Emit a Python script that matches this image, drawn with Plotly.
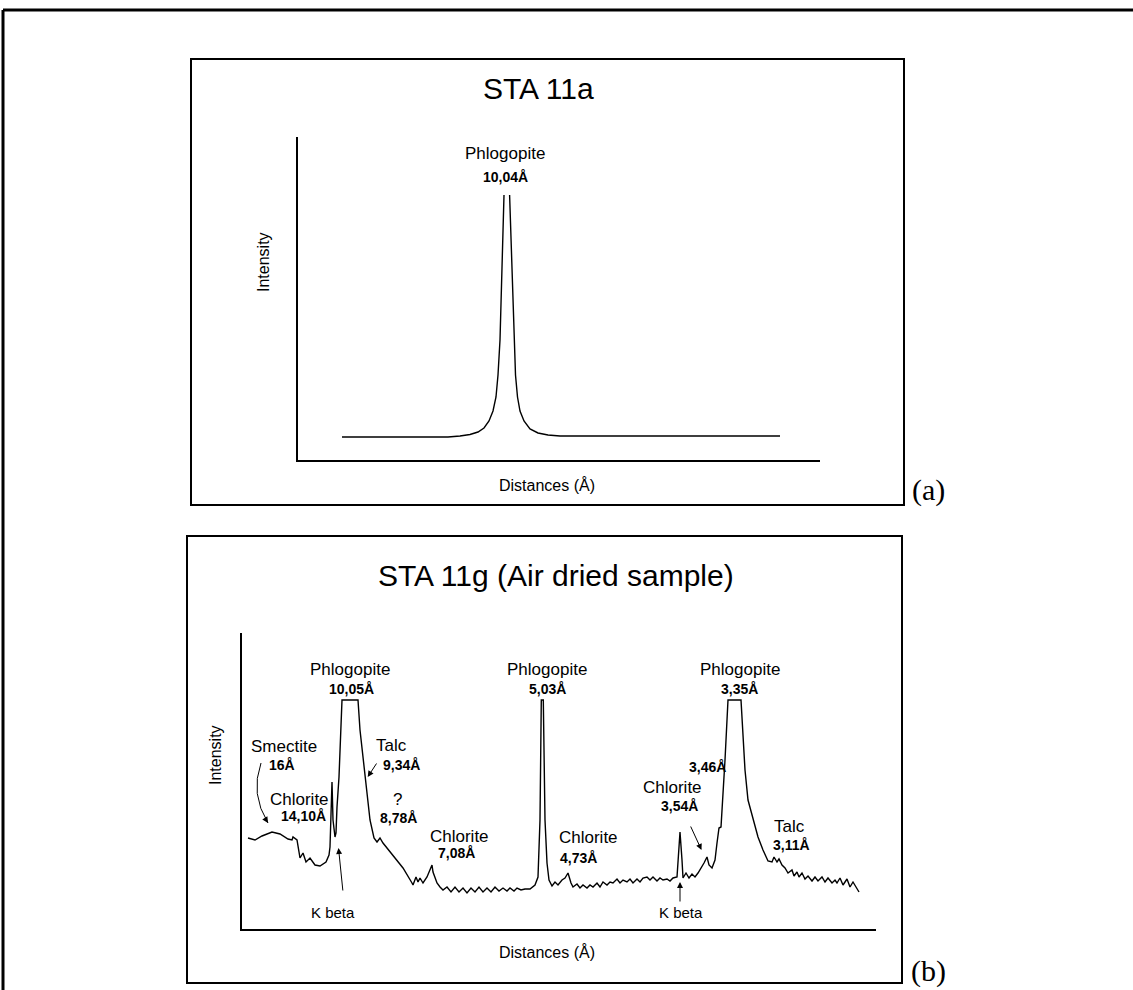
import plotly.graph_objects as go

W, H = 1133, 990

# ---- panel (a): STA 11a, single phlogopite reflection (arbitrary units) ----
a_pos = [44, 150, 162, 172, 180, 186, 191, 195, 198, 200, 202, 203.5, 205, 206, None,
         211.6, 212.8, 214.2, 215.8, 217.5, 219.5, 222, 226, 232, 240, 250, 262, 482]
a_int = [23, 23, 24, 25.5, 28, 32, 39, 49, 63, 85, 120, 170, 225, 265, None,
         265, 225, 170, 120, 85, 63, 49, 39, 31, 27, 25, 24, 24]

# ---- panel (b): STA 11g air dried (arbitrary units) ----
b_pos = [6, 13, 20, 30, 38, 46, 50, 51, 55, 58, 61, 64, 68, 73, 78, 84, 87, 88, 90, 91,
         93, 94, 95, 97, 100, 116, 118, 121, 124, 125, 128, 132, 135, 138, 141, 151, 161,
         170, 171, 174, 176, 178, 181, 185, 187, 190, 191, 195, 198, 201, 205, 209, 213,
         217, 221, 225, 229, 233, 237, 241, 245, 249, 253, 257, 261, 265, 268, 272, 275,
         279, 283, 288, 293, 296, 298, 299, 299.3, 301.3, 302, 303, 305, 307, 310, 313,
         316, 320, 323, 326, 329, 331, 335, 338, 341, 345, 348, 351, 355, 358, 361, 365,
         368, 371, 375, 378, 381, 385, 388, 391, 395, 398, 401, 405, 408, 411, 415, 418,
         421, 425, 428, 431, 435, 436, 438, 440, 441, 444, 447, 450, 453, 456, 460, 462,
         465, 467, 470, 473, 475, 477, 479, 481, 483, 485, 486, 499, 501, 503, 506, 511,
         516, 521, 526, 530, 532, 535, 537, 540, 543, 546, 550, 552, 555, 557, 560, 563,
         566, 570, 573, 576, 580, 583, 586, 590, 593, 595, 598, 601, 605, 608, 611, 614, 617]
b_int = [91, 89, 93, 97, 95, 90, 89, 92, 89, 71, 76, 67, 71, 64, 63, 67, 74, 82, 147, 109,
         92, 96, 122, 152, 229, 229, 199, 169, 141, 136, 109, 91, 87, 91, 86, 74, 61,
         46, 44, 52, 47, 51, 46, 52, 57, 64, 57, 46, 42, 39, 42, 37, 42,
         37, 41, 36, 41, 37, 42, 37, 41, 37, 42, 38, 41, 38, 41, 38, 41,
         39, 40, 40, 44, 52, 109, 176, 229, 229, 176, 109, 66, 49, 43, 47,
         44, 49, 51, 56, 46, 42, 45, 41, 44, 41, 44, 42, 46, 42, 47, 44,
         47, 46, 50, 46, 49, 47, 50, 46, 50, 47, 51, 52, 49, 52, 48, 51,
         49, 50, 48, 51, 52, 69, 97, 69, 51, 56, 51, 55, 52, 56, 62, 66,
         72, 64, 61, 69, 86, 101, 102, 132, 169, 209, 229, 229, 192, 159, 129, 109,
         92, 79, 68, 67, 72, 67, 70, 64, 61, 56, 59, 53, 57, 52, 56, 50,
         53, 48, 52, 48, 52, 47, 51, 46, 49, 46, 51, 44, 50, 42, 47, 42, 37]

# peak labels for panel (b): text, position, intensity
b_names = ["Phlogopite", "Phlogopite", "Phlogopite", "Smectite", "Chlorite", "Talc", "?",
           "Chlorite", "Chlorite", "Chlorite", "Talc", "K beta", "K beta"]
b_names_x = [108, 305, 498, 42, 57, 149, 155, 217, 346, 430, 547, 91, 439]
b_names_y = [260, 260, 260, 183, 130, 184, 130, 93, 92, 142, 103, 17, 17]
b_d = ["10,05Å", "5,03Å", "3,35Å", "16Å", "14,10Å", "9,34Å", "8,78Å", "7,08Å", "4,73Å",
       "3,54Å", "3,46Å", "3,11Å"]
b_d_x = [109, 305, 497, 40, 61, 159, 156, 214, 336, 437, 465, 549]
b_d_y = [240, 240, 240, 164, 113, 164, 111, 76, 71, 123, 162, 84]

# arrows (tail -> head) in panel (b)
arrow_tail = [(135.5, 167), (101, 37), (448, 104), (438, 26), (22.4, 111.8)]
arrow_head = [(125.7, 152), (96.5, 81), (459.5, 79), (438, 47), (26, 106)]

FONT = "Liberation Sans, Arial, sans-serif"
SERIF = "Liberation Serif, Times New Roman, serif"


def px(x):
    return x / W


def py(y):
    return 1 - y / H


fig = go.Figure()
fig.add_trace(go.Scatter(x=a_pos, y=a_int, mode="lines", connectgaps=False,
                         line=dict(color="black", width=1.4), hoverinfo="skip",
                         showlegend=False, xaxis="x", yaxis="y"))
fig.add_trace(go.Scatter(x=b_pos, y=b_int, mode="lines",
                         line=dict(color="black", width=1.4), hoverinfo="skip",
                         showlegend=False, xaxis="x2", yaxis="y2"))

axis_style = dict(showline=True, linecolor="black", linewidth=2, showgrid=False,
                  zeroline=False, showticklabels=False, ticks="", fixedrange=True)

fig.update_layout(
    width=W, height=H, margin=dict(l=0, r=0, t=0, b=0),
    paper_bgcolor="white", plot_bgcolor="white", showlegend=False,
    xaxis=dict(domain=[px(298), px(820)], range=[0, 522], anchor="y", **axis_style),
    yaxis=dict(domain=[py(460), py(137)], range=[0, 323], anchor="x", **axis_style),
    xaxis2=dict(domain=[px(242), px(876)], range=[0, 634], anchor="y2", **axis_style),
    yaxis2=dict(domain=[py(929), py(633)], range=[0, 296], anchor="x2", **axis_style),
    font=dict(family=FONT, color="black"),
)

shapes = [
    # outer frame
    dict(type="line", xref="paper", yref="paper", x0=px(3), x1=1, y0=py(10), y1=py(10),
         line=dict(color="black", width=3)),
    dict(type="line", xref="paper", yref="paper", x0=px(3), x1=px(3), y0=py(10), y1=0,
         line=dict(color="black", width=3)),
    # panel boxes
    dict(type="rect", xref="paper", yref="paper", x0=px(191), x1=px(904), y0=py(505), y1=py(59),
         line=dict(color="black", width=2)),
    dict(type="rect", xref="paper", yref="paper", x0=px(187), x1=px(902), y0=py(983), y1=py(536),
         line=dict(color="black", width=2)),
    # curved smectite pointer
    dict(type="path", xref="x2", yref="y2", path="M 19,166 Q 8,135 26,106",
         line=dict(color="black", width=1)),
]
fig.update_layout(shapes=shapes)

ann = []


def paper_text(text, x, y, size, family=FONT, angle=0):
    ann.append(dict(text=text, x=px(x), y=py(y), xref="paper", yref="paper",
                    showarrow=False, xanchor="center", yanchor="middle", textangle=angle,
                    font=dict(size=size, family=family, color="black")))


paper_text("STA 11a", 538, 88, 30)
paper_text("STA 11g (Air dried sample)", 556, 575, 30)
paper_text("Intensity", 264, 262, 16, angle=-90)
paper_text("Intensity", 215, 755, 16, angle=-90)
paper_text("Distances (Å)", 547, 485, 16)
paper_text("Distances (Å)", 547, 952, 16)
paper_text("(a)", 928, 490, 30, family=SERIF)
paper_text("(b)", 928, 971, 30, family=SERIF)

# panel (a) peak label
ann.append(dict(text="Phlogopite", x=207, y=307, xref="x", yref="y", showarrow=False,
                font=dict(size=17)))
ann.append(dict(text="<b>10,04Å</b>", x=207, y=283, xref="x", yref="y", showarrow=False,
                font=dict(size=14)))

for t, x, y in zip(b_names, b_names_x, b_names_y):
    ann.append(dict(text=t, x=x, y=y, xref="x2", yref="y2", showarrow=False,
                    font=dict(size=15 if t == "K beta" else 17)))
for t, x, y in zip(b_d, b_d_x, b_d_y):
    ann.append(dict(text=f"<b>{t}</b>", x=x, y=y, xref="x2", yref="y2", showarrow=False,
                    font=dict(size=14)))

for (tx, ty), (hx, hy) in zip(arrow_tail, arrow_head):
    ann.append(dict(text="", x=hx, y=hy, ax=tx, ay=ty, xref="x2", yref="y2",
                    axref="x2", ayref="y2", showarrow=True, arrowhead=2, arrowsize=1.2,
                    arrowwidth=1, arrowcolor="black"))

fig.update_layout(annotations=ann)

# drop the page's default body margin so the figure sits at the window origin
fig.write_html("out.html", config={"displayModeBar": False},
               post_script="document.body.style.margin='0';")
